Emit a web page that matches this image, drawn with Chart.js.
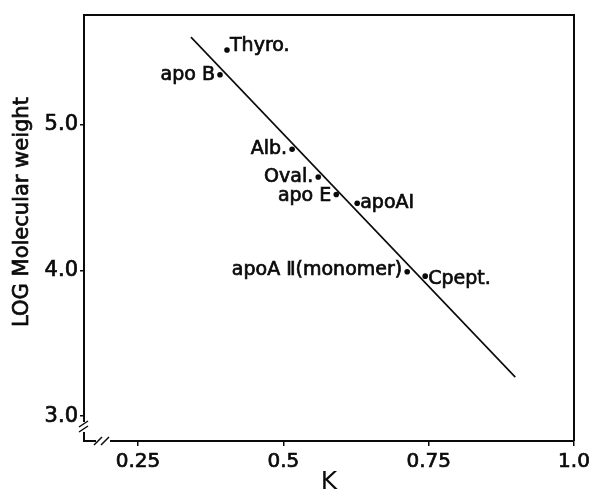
<!DOCTYPE html>
<html>
<head>
<meta charset="utf-8">
<script src="https://cdn.jsdelivr.net/npm/chart.js@4.4.1/dist/chart.umd.min.js"></script>
<style>
  html, body { margin: 0; padding: 0; background: #fff; }
</style>
</head>
<body>
<canvas id="myChart" width="590" height="497"></canvas>
<script>
// data
const proteinNames = ['Thyro.', 'apo B', 'Alb.', 'Oval.', 'apo E', 'apoA\u2160', 'apoA \u2161(monomer)', 'Cpept.'];
const kValues = [0.403, 0.391, 0.515, 0.560, 0.591, 0.627, 0.713, 0.744];
const logMW = [5.51, 5.34, 4.83, 4.64, 4.52, 4.46, 3.99, 3.96];
const fitK = [0.341, 0.899];
const fitLogMW = [5.598, 3.268];
const xTicks = [0.25, 0.5, 0.75, 1.0];
const xTickLabels = ['0.25', '0.5', '0.75', '1.0'];
const yTicks = [3.0, 4.0, 5.0];
const yTickLabels = ['3.0', '4.0', '5.0'];
const yTitle = 'LOG Molecular weight';

// where each label sits next to its dot
const labelSide = ['right', 'left', 'left', 'left', 'left', 'right', 'left', 'right'];
const labelDy = [-4, 0, 0, 0, 2, 0, -2, 3];

const fam = '"DejaVu Sans", Arial, sans-serif';
const ink = '#0a0a0a';

// draws text a bit heavier, like the scanned original
function heavyText(ctx, txt, x, y) {
  ctx.lineWidth = 0.7;
  ctx.strokeStyle = ink;
  ctx.strokeText(txt, x, y);
  ctx.fillText(txt, x, y);
}

const labelsAndFrame = {
  id: 'labelsAndFrame',
  afterDatasetsDraw(chart) {
    const ctx = chart.ctx;
    const meta = chart.getDatasetMeta(1);
    ctx.save();
    ctx.font = '19px ' + fam;
    ctx.fillStyle = ink;
    ctx.textBaseline = 'middle';
    meta.data.forEach(function(pt, i) {
      const left = labelSide[i] === 'left';
      ctx.textAlign = left ? 'right' : 'left';
      heavyText(ctx, proteinNames[i], pt.x + (left ? -5 : 3), pt.y + labelDy[i]);
    });
    ctx.restore();
  },
  afterDraw(chart) {
    const ctx = chart.ctx;
    const a = chart.chartArea;
    ctx.save();
    ctx.strokeStyle = ink;
    ctx.lineWidth = 2;
    ctx.beginPath();
    ctx.moveTo(a.left, a.top);
    ctx.lineTo(a.right, a.top);
    ctx.lineTo(a.right, a.bottom);
    ctx.stroke();
    // axis breaks
    ctx.fillStyle = '#fff';
    ctx.fillRect(a.left - 3, a.bottom - 19, 6, 10);
    ctx.fillRect(a.left + 12, a.bottom - 3, 14, 6);
    ctx.lineWidth = 1.5;
    ctx.beginPath();
    ctx.moveTo(a.left - 5, a.bottom - 14); ctx.lineTo(a.left + 4, a.bottom - 20);
    ctx.moveTo(a.left - 5, a.bottom - 9);  ctx.lineTo(a.left + 4, a.bottom - 15);
    ctx.moveTo(a.left + 10, a.bottom + 4); ctx.lineTo(a.left + 18, a.bottom - 4);
    ctx.moveTo(a.left + 17, a.bottom + 4); ctx.lineTo(a.left + 25, a.bottom - 4);
    ctx.stroke();
    // y axis title
    ctx.translate(23, 212);
    ctx.rotate(-Math.PI / 2);
    ctx.font = '21px ' + fam;
    ctx.fillStyle = ink;
    ctx.textAlign = 'center';
    ctx.textBaseline = 'middle';
    heavyText(ctx, yTitle, 0, 0);
    ctx.restore();
  }
};

new Chart(document.getElementById('myChart'), {
  type: 'scatter',
  data: {
    datasets: [
      {
        label: 'fit',
        data: fitK.map((k, i) => ({ x: k, y: fitLogMW[i] })),
        showLine: true,
        borderColor: ink,
        borderWidth: 1.6,
        pointRadius: 0
      },
      {
        label: 'proteins',
        data: kValues.map((k, i) => ({ x: k, y: logMW[i] })),
        pointRadius: 2.8,
        pointBackgroundColor: ink,
        pointBorderColor: ink,
        pointBorderWidth: 0
      }
    ]
  },
  options: {
    responsive: false,
    animation: false,
    layout: { padding: { top: 15, right: 16, left: 0, bottom: 0 } },
    plugins: { legend: { display: false }, tooltip: { enabled: false } },
    scales: {
      x: {
        type: 'linear',
        min: 0.157,
        max: 1.0,
        afterBuildTicks: s => { s.ticks = xTicks.map(v => ({ value: v })); },
        afterFit: s => { s.height = 56; s.paddingRight = 0; s.paddingLeft = 0; },
        ticks: {
          callback: (v, i) => xTickLabels[i],
          font: { size: 20, family: fam },
          color: ink,
          textStrokeColor: ink,
          textStrokeWidth: 0.7,
          padding: 4,
          maxRotation: 0,
          autoSkip: false
        },
        grid: { drawOnChartArea: false, tickLength: 5, color: ink, lineWidth: 1.5 },
        border: { color: ink, width: 2 },
        title: { display: true, text: 'K', font: { size: 25, family: fam }, color: ink, padding: { top: 0, bottom: 0 } }
      },
      y: {
        type: 'linear',
        min: 2.83,
        max: 5.75,
        afterBuildTicks: s => { s.ticks = yTicks.map(v => ({ value: v })); },
        afterFit: s => { s.width = 84; },
        ticks: {
          callback: (v, i) => yTickLabels[i],
          font: { size: 21, family: fam },
          color: ink,
          textStrokeColor: ink,
          textStrokeWidth: 0.7,
          padding: 2,
          autoSkip: false
        },
        grid: { drawOnChartArea: false, tickLength: 4, color: ink, lineWidth: 1.5 },
        border: { color: ink, width: 2 }
      }
    }
  },
  plugins: [labelsAndFrame]
});
</script>
</body>
</html>
